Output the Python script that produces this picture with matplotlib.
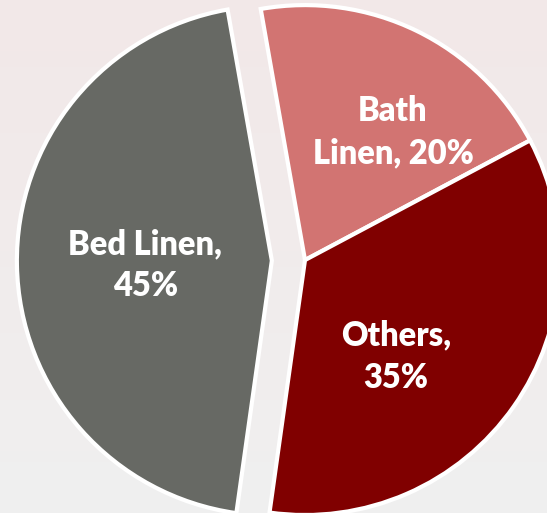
import numpy as np
import matplotlib.pyplot as plt

labels = ['Bath Linen', 'Others', 'Bed Linen']
shares = [20, 35, 45]
colors = ['#d27472', '#800000', '#676964']
explode = [0, 0, 0.13]

# label text and where it sits inside each slice
label_text = ['Bath\nLinen, %d%%', 'Others,\n%d%%', 'Bed Linen,\n%d%%']
label_pos = [(0.345, 0.5), (0.357, -0.38), (-0.627, -0.02)]

fig = plt.figure(figsize=(5.47, 5.13), dpi=100)
ax = fig.add_axes([0, 0, 1, 1])

# light background, a bit pinker at the top
grad = np.linspace(0, 1, 100).reshape(-1, 1)
top = np.array([0.95, 0.91, 0.91])
bot = np.array([0.94, 0.94, 0.94])
bg = top * (1 - grad[..., None]) + bot * grad[..., None]
bg = np.clip(bg, 0, 1)
ax.imshow(bg, extent=[-1.196, 0.949, -0.992, 1.02], aspect='auto', zorder=0)

ax.pie(shares, colors=colors, explode=explode, startangle=100,
       counterclock=False, radius=1,
       wedgeprops=dict(edgecolor='white', linewidth=3))

for txt, v, (x, y) in zip(label_text, shares, label_pos):
    ax.text(x, y, txt % v, ha='center', va='center', color='white',
            fontsize=23.5, fontweight='heavy', family='Lato', linespacing=1.4)

ax.set_xlim(-1.196, 0.949)
ax.set_ylim(-0.992, 1.02)
ax.set_aspect('equal')
ax.axis('off')

fig.savefig('out.png', dpi=100)
